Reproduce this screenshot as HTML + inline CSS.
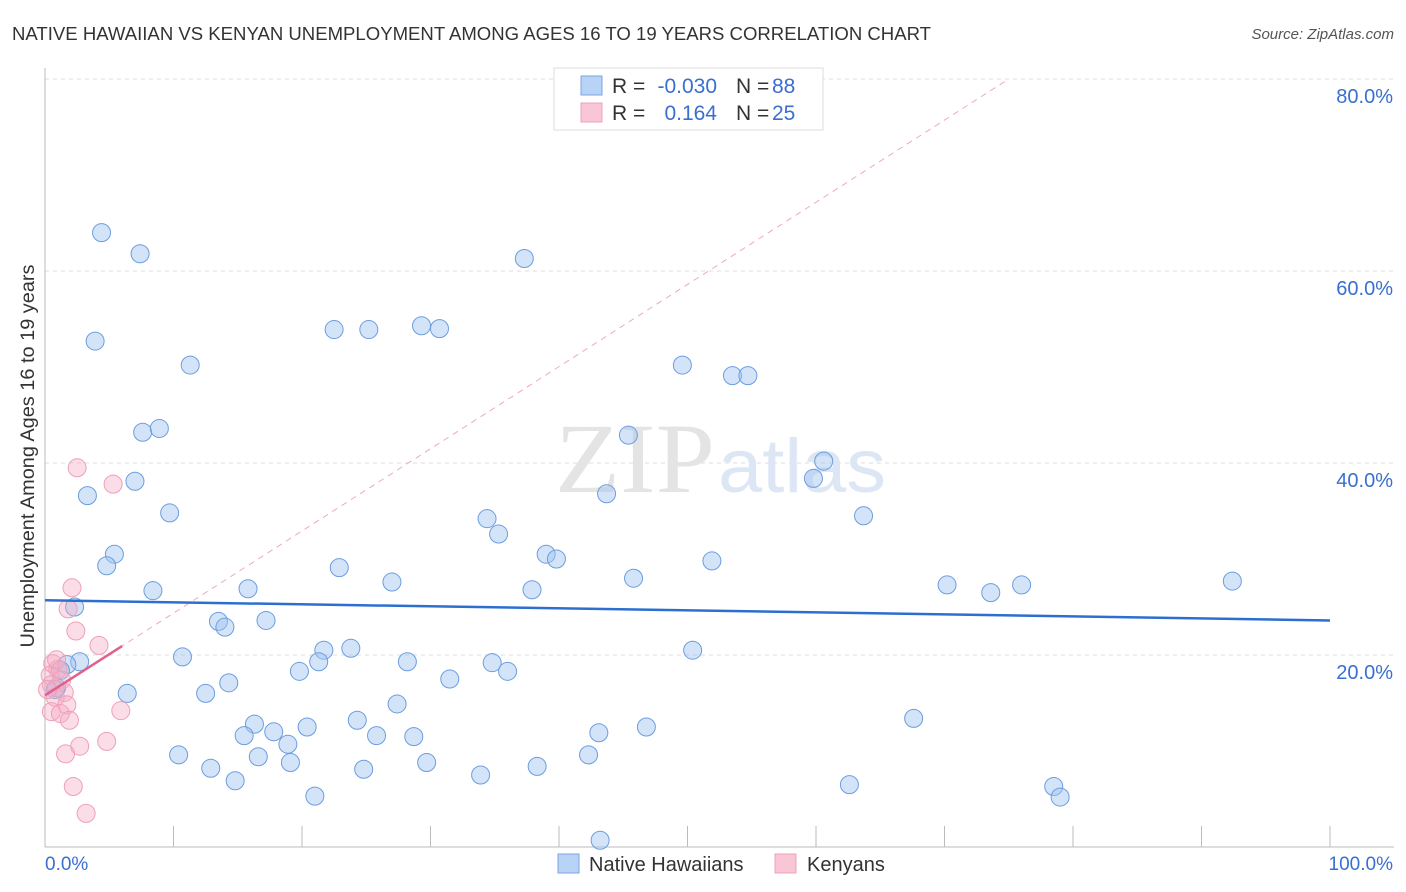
<!DOCTYPE html>
<html><head><meta charset="utf-8"><style>
body{margin:0;background:#fff;font-family:"Liberation Sans",sans-serif}
svg{display:block}
</style></head><body>
<svg id="c" width="1406" height="892"></svg>
<script>
const blueX=[4.4,7.4,37.3,3.9,22.5,25.2,29.3,30.7,11.3,49.6,53.5,54.7,7.6,8.9,45.4,60.6,59.8,7.0,3.3,43.7,9.7,34.4,63.7,35.3,5.4,39.0,39.8,4.8,51.9,22.9,27.0,45.8,70.2,76.0,73.6,92.4,8.4,15.8,37.9,2.3,13.5,14.0,17.2,21.7,23.8,50.4,10.7,2.7,1.7,21.3,28.2,34.8,1.2,19.8,36.0,31.5,14.3,6.4,12.5,0.9,0.8,27.4,67.6,24.3,16.3,20.4,46.8,17.8,15.5,25.8,43.1,28.7,18.9,10.4,16.6,42.3,19.1,29.7,12.9,24.8,38.3,33.9,14.8,62.6,78.5,79.0,21.0,43.2];
const blueY=[64.0,61.8,61.3,52.7,53.9,53.9,54.3,54.0,50.2,50.2,49.1,49.1,43.2,43.6,42.9,40.2,38.4,38.1,36.6,36.8,34.8,34.2,34.5,32.6,30.5,30.5,30.0,29.3,29.8,29.1,27.6,28.0,27.3,27.3,26.5,27.7,26.7,26.9,26.8,25.0,23.5,22.9,23.6,20.5,20.7,20.5,19.8,19.3,19.0,19.3,19.3,19.2,18.4,18.3,18.3,17.5,17.1,16.0,16.0,16.6,16.4,14.9,13.4,13.2,12.8,12.5,12.5,12.0,11.6,11.6,11.9,11.5,10.7,9.6,9.4,9.6,8.8,8.8,8.2,8.1,8.4,7.5,6.9,6.5,6.3,5.2,5.3,0.7];
const pinkX=[2.5,5.3,2.1,1.8,2.4,4.2,0.6,1.0,0.4,1.3,0.5,1.5,0.8,1.7,5.9,0.5,1.2,1.9,4.8,2.7,1.6,2.2,3.2,0.2,0.9];
const pinkY=[39.5,37.8,27.0,24.8,22.5,21.0,19.1,18.5,17.9,17.4,16.9,16.1,15.6,14.8,14.2,14.1,13.9,13.2,11.0,10.5,9.7,6.3,3.5,16.4,19.5];
const yTicks=[20,40,60,80];
const blueTrend=[25.7,23.6];
const pinkTrend=[15.8,0.856];
const NS="http://www.w3.org/2000/svg",s=document.getElementById('c');
const X=v=>45+v*12.85, Y=v=>847-v*9.6;
function el(t,a,p){const e=document.createElementNS(NS,t);for(const k in a)e.setAttribute(k,a[k]);(p||s).appendChild(e);return e;}
function tx(x,y,str,a){const e=el('text',Object.assign({x:x,y:y},a));e.textContent=str;return e;}
let t=tx(12,40,"NATIVE HAWAIIAN VS KENYAN UNEMPLOYMENT AMONG AGES 16 TO 19 YEARS CORRELATION CHART",{'font-size':18,fill:'#333',textLength:919,lengthAdjust:'spacingAndGlyphs'});

t=tx(1394,39,"Source: ZipAtlas.com",{'font-size':15,fill:'#555','text-anchor':'end','font-style':'italic'});

yTicks.forEach(v=>{
 let g=el('line',{x1:45,x2:1394,y1:Y(v),y2:Y(v),stroke:'#ddd','stroke-dasharray':'4,4'});
 
 let l=tx(1393,Y(v)+24,v.toFixed(1)+"%",{'font-size':20,fill:'#3a6fd0','text-anchor':'end'});
 
});
let a=el('line',{x1:45,x2:45,y1:68,y2:847,stroke:'#bbb'});
a=el('line',{x1:45,x2:1394,y1:847,y2:847,stroke:'#bbb'});
for(let i=0;i<=10;i++){let k=el('line',{x1:X(i*10),x2:X(i*10),y1:826,y2:847,stroke:'#bbb'});}
t=tx(45,870,"0.0%",{'font-size':19,fill:'#3a6fd0'});
t=tx(1393,870,"100.0%",{'font-size':19,fill:'#3a6fd0','text-anchor':'end'});
t=tx(0,0,"Unemployment Among Ages 16 to 19 years",{'font-size':19,fill:'#333','text-anchor':'middle',textLength:383,lengthAdjust:'spacingAndGlyphs',transform:'translate(34,456) rotate(-90)'});

t=tx(715,492,"ZIP",{'font-size':100,fill:'#e4e4e4','text-anchor':'end','font-family':'Liberation Serif',textLength:160,lengthAdjust:'spacingAndGlyphs'});
t=tx(718,492,"atlas",{'font-size':76,fill:'#dce6f5',textLength:168,lengthAdjust:'spacingAndGlyphs'});
let d=el('line',{x1:X(0),y1:Y(pinkTrend[0]),x2:X(75),y2:Y(pinkTrend[0]+pinkTrend[1]*75),stroke:'#eeaabb','stroke-dasharray':'6,5','stroke-width':1});

blueX.forEach((v,i)=>{let c=el('circle',{cx:X(v),cy:Y(blueY[i]),r:9,fill:'rgba(160,195,240,0.45)',stroke:'#6b9de0','stroke-width':1});
 });
pinkX.forEach((v,i)=>{let c=el('circle',{cx:X(v),cy:Y(pinkY[i]),r:9,fill:'rgba(245,170,195,0.4)',stroke:'#eea0b8','stroke-width':1});
 });
let b=el('line',{x1:X(0),y1:Y(blueTrend[0]),x2:X(100),y2:Y(blueTrend[1]),stroke:'#2d6fd0','stroke-width':2.5});

let p=el('line',{x1:X(0),y1:Y(pinkTrend[0]),x2:X(6),y2:Y(pinkTrend[0]+pinkTrend[1]*6),stroke:'#e06090','stroke-width':2.5});

let lg=el('g',{});
el('rect',{x:554,y:68,width:269,height:62,fill:'#fff',stroke:'#ddd'},lg);
el('rect',{x:581,y:76,width:21,height:19,fill:'#b8d3f5',stroke:'#7aa5e0'},lg);
el('rect',{x:581,y:103,width:21,height:19,fill:'#f9c6d5',stroke:'#eea0b8'},lg);
function lt(x,y,str,c,an){let e=tx(x,y,str,{'font-size':21,fill:c,'text-anchor':an||'start'});lg.appendChild(e);return e;}
lt(612,93,"R =","#333");
lt(717,93,"-0.030","#3a6fd0",'end');
lt(736,93,"N =","#333");
lt(772,93,"88","#3a6fd0");
lt(612,120,"R =","#333");
lt(717,120,"0.164","#3a6fd0",'end');
lt(736,120,"N =","#333");
lt(772,120,"25","#3a6fd0");
let bl=el('g',{});
el('rect',{x:558,y:854,width:21,height:19,fill:'#b8d3f5',stroke:'#7aa5e0'},bl);
el('rect',{x:775,y:854,width:21,height:19,fill:'#f9c6d5',stroke:'#eea0b8'},bl);
t=tx(589,871,"Native Hawaiians",{'font-size':20,fill:'#333'});bl.appendChild(t);
t=tx(807,871,"Kenyans",{'font-size':20,fill:'#333'});bl.appendChild(t);
</script>
</body></html>
